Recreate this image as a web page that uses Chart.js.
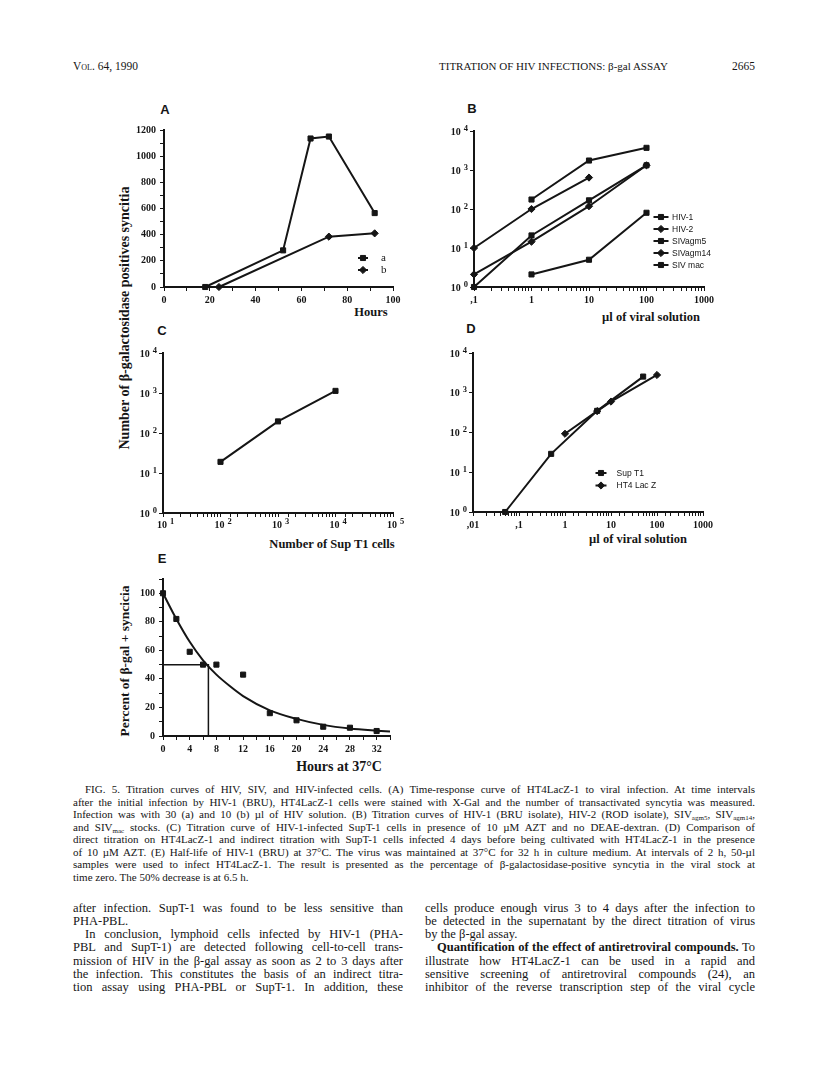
<!DOCTYPE html>
<html>
<head>
<meta charset="utf-8">
<script src="https://cdn.jsdelivr.net/npm/chart.js@4.4.1/dist/chart.umd.min.js"></script>
<style>
  body { margin: 0; width: 816px; height: 1076px; background: #fff; position: relative; overflow: hidden;
         font-family: "Liberation Serif", "Times New Roman", serif; color: #151515; }
  canvas { position: absolute; }
  .t { position: absolute; white-space: nowrap; }
  .c { transform: translate(-50%, -50%); }
  .rot { transform: translate(-50%, -50%) rotate(-90deg); }
  .letter { font-family: "Liberation Sans", Arial, sans-serif; font-weight: bold; font-size: 13px; }
  .axt { font-weight: bold; font-size: 12.5px; }
  .cap, .body { position: absolute; white-space: nowrap; text-align: justify; text-align-last: justify; }
  .cap { left: 73px; width: 682px; font-size: 11px; line-height: 13px; }
  .body { font-size: 12.5px; line-height: 13px; }
  .lc { left: 73px; width: 330px; }
  .rc { left: 425px; width: 330px; }
  .end { text-align-last: left; }
  sub { font-size: 7px; vertical-align: -2px; line-height: 0; }
</style>
</head>
<body>

<div class="t" style="left:73px; top:60px; font-size:11.5px; font-variant:small-caps;">Vol. 64, 1990</div>
<div class="t" style="left:439px; top:60px; font-size:11px;">TITRATION OF HIV INFECTIONS: β-gal ASSAY</div>
<div class="t" style="right:61px; top:60px; font-size:11.5px;">2665</div>

<!-- panel letters and axis titles -->
<div class="t c letter" style="left:165px; top:109px;">A</div>
<div class="t c letter" style="left:472px; top:108px;">B</div>
<div class="t c letter" style="left:162px; top:330px;">C</div>
<div class="t c letter" style="left:471px; top:328px;">D</div>
<div class="t c letter" style="left:162px; top:558px;">E</div>

<div class="t rot" style="left:125px; top:318px; font-weight:bold; font-size:14px;">Number of β-galactosidase positives syncitia</div>
<div class="t rot" style="left:125px; top:661px; font-weight:bold; font-size:13.5px;">Percent of β-gal + syncicia</div>

<div class="t c axt" style="left:371px; top:312px; font-size:12.5px;">Hours</div>
<div class="t c axt" style="left:651px; top:317px;">µl of viral solution</div>
<div class="t c axt" style="left:332px; top:544px;">Number of Sup T1 cells</div>
<div class="t c axt" style="left:638px; top:539px;">µl of viral solution</div>
<div class="t c axt" style="left:339px; top:767px; font-size:14px;">Hours at 37°C</div>

<canvas id="chartA"></canvas>
<canvas id="chartB"></canvas>
<canvas id="chartC"></canvas>
<canvas id="chartD"></canvas>
<canvas id="chartE"></canvas>

<!-- caption -->
<div class="cap" style="top:783px; left:85px; width:670px;">FIG. 5. Titration curves of HIV, SIV, and HIV-infected cells. (A) Time-response curve of HT4LacZ-1 to viral infection. At time intervals</div>
<div class="cap" style="top:796px;">after the initial infection by HIV-1 (BRU), HT4LacZ-1 cells were stained with X-Gal and the number of transactivated syncytia was measured.</div>
<div class="cap" style="top:808px;">Infection was with 30 (a) and 10 (b) µl of HIV solution. (B) Titration curves of HIV-1 (BRU isolate), HIV-2 (ROD isolate), SIV<sub>agm5</sub>, SIV<sub>agm14</sub>,</div>
<div class="cap" style="top:821px;">and SIV<sub>mac</sub> stocks. (C) Titration curve of HIV-1-infected SupT-1 cells in presence of 10 µM AZT and no DEAE-dextran. (D) Comparison of</div>
<div class="cap" style="top:833px;">direct titration on HT4LacZ-1 and indirect titration with SupT-1 cells infected 4 days before being cultivated with HT4LacZ-1 in the presence</div>
<div class="cap" style="top:846px;">of 10 µM AZT. (E) Half-life of HIV-1 (BRU) at 37°C. The virus was maintained at 37°C for 32 h in culture medium. At intervals of 2 h, 50-µl</div>
<div class="cap" style="top:858px;">samples were used to infect HT4LacZ-1. The result is presented as the percentage of β-galactosidase-positive syncytia in the viral stock at</div>
<div class="cap end" style="top:871px;">time zero. The 50% decrease is at 6.5 h.</div>

<!-- body text -->
<div class="body lc" style="top:901.5px;">after infection. SupT-1 was found to be less sensitive than</div>
<div class="body lc end" style="top:914.8px;">PHA-PBL.</div>
<div class="body lc" style="top:928.1px; left:85px; width:318px;">In conclusion, lymphoid cells infected by HIV-1 (PHA-</div>
<div class="body lc" style="top:941.4px;">PBL and SupT-1) are detected following cell-to-cell trans-</div>
<div class="body lc" style="top:954.7px;">mission of HIV in the β-gal assay as soon as 2 to 3 days after</div>
<div class="body lc" style="top:968px;">the infection. This constitutes the basis of an indirect titra-</div>
<div class="body lc" style="top:981.3px;">tion assay using PHA-PBL or SupT-1. In addition, these</div>

<div class="body rc" style="top:901.5px;">cells produce enough virus 3 to 4 days after the infection to</div>
<div class="body rc" style="top:914.8px;">be detected in the supernatant by the direct titration of virus</div>
<div class="body rc end" style="top:928.1px;">by the β-gal assay.</div>
<div class="body rc" style="top:941.4px; left:437px; width:318px;"><b>Quantification of the effect of antiretroviral compounds.</b> To</div>
<div class="body rc" style="top:954.7px;">illustrate how HT4LacZ-1 can be used in a rapid and</div>
<div class="body rc" style="top:968px;">sensitive screening of antiretroviral compounds (24), an</div>
<div class="body rc" style="top:981.3px;">inhibitor of the reverse transcription step of the viral cycle</div>

<script>
// ---- A: time response (hours vs syncytia)
const hoursA = [18, 52, 64, 72, 92];
const syncA = [0, 280, 1135, 1150, 565];
const hoursB = [24, 72, 92];
const syncB = [0, 385, 410];

// ---- B: titration curves (µl vs syncytia)
const hiv1Ul = [1, 10, 100];
const hiv1Sync = [175, 1750, 3700];
const hiv2Ul = [0.1, 1, 10];
const hiv2Sync = [10, 100, 640];
const agm5Ul = [0.1, 1, 10, 100];
const agm5Sync = [1, 21, 167, 1320];
const agm14Ul = [0.1, 1, 10, 100];
const agm14Sync = [2.1, 14.5, 118, 1320];
const macUl = [1, 10, 100];
const macSync = [2.1, 5, 80];

// ---- C: Sup T1 cells
const supCells = [100, 1000, 10000];
const supCellSync = [19, 195, 1130];

// ---- D: direct vs indirect
const supT1Ul = [0.05, 0.5, 5, 50];
const supT1Sync = [1, 29, 350, 2550];
const lacZUl = [1, 5, 10, 100];
const lacZSync = [93, 345, 600, 2800];

// ---- E: half-life
const hoursE = [0, 2, 4, 6, 8, 12, 16, 20, 24, 28, 32];
const pctE = [100, 82, 59, 50, 50, 43, 16, 11, 6.5, 5.8, 3.5];
const fitHours = [0, 2, 4, 6, 8, 10, 12, 16, 20, 24, 28, 32, 34];
const fitPct = [100, 82, 66, 53, 43, 35, 28, 18, 12, 7.8, 5.2, 3.7, 3.1];
const halfHours = [0, 6.8, 6.8];
const halfPct = [50, 50, 0];

// ---- tick labels
const powBase = '10';
const powExps = ['0', '1', '2', '3', '4', '5'];
const ulLabelsB = [',1', '1', '10', '100', '1000'];
const ulLabelsD = [',01', ',1', '1', '10', '100', '1000'];

const INK = '#151515';
const SERIF = '"Liberation Serif", "Times New Roman", serif';
const SANS = '"Liberation Sans", Arial, sans-serif';

const pts = (xs, ys) => xs.map((x, i) => ({ x: x, y: ys[i] }));
const isPow = v => { const e = Math.log10(v); return Math.abs(e - Math.round(e)) < 1e-6; };
const expOf = v => Math.round(Math.log10(v));

function series(label, xs, ys, style) {
  return {
    label: label, data: pts(xs, ys), showLine: true, borderColor: INK, borderWidth: 2,
    pointStyle: style, pointRadius: 3.6, pointBackgroundColor: INK,
    pointBorderColor: INK, pointBorderWidth: 1, tension: 0, clip: false
  };
}

function drawMarker(ctx, style, x, y, r) {
  ctx.beginPath();
  if (style === 'rect') {
    const s = r * Math.SQRT1_2;
    ctx.rect(x - s, y - s, 2 * s, 2 * s);
  } else {
    ctx.moveTo(x, y - r); ctx.lineTo(x + r, y); ctx.lineTo(x, y + r); ctx.lineTo(x - r, y); ctx.closePath();
  }
  ctx.fill(); ctx.stroke();
}

// little legend: short line with marker, then the label
const miniLegend = {
  id: 'miniLegend',
  afterDraw(chart, args, opts) {
    if (!opts.show) return;
    const ctx = chart.ctx;
    const area = chart.chartArea;
    ctx.save();
    ctx.font = opts.font;
    ctx.fillStyle = INK; ctx.strokeStyle = INK;
    ctx.textBaseline = 'middle';
    chart.data.datasets.forEach((ds, i) => {
      const x = area.left + opts.x;
      const y = area.top + opts.y + i * opts.gap;
      ctx.lineWidth = 2;
      ctx.beginPath(); ctx.moveTo(x - opts.half, y); ctx.lineTo(x + opts.half, y); ctx.stroke();
      ctx.lineWidth = 1;
      drawMarker(ctx, ds.pointStyle, x, y, ds.pointRadius);
      ctx.fillText(ds.label, x + opts.textDx, y + 0.5);
    });
    ctx.restore();
  }
};

// "10" with a raised exponent at each power of ten of the log scales
const powTicks = {
  id: 'powTicks',
  afterDraw(chart, args, opts) {
    const ctx = chart.ctx;
    ctx.save();
    ctx.fillStyle = INK;
    ctx.textBaseline = 'alphabetic';
    ['x', 'y'].forEach(id => {
      if (!opts[id]) return;
      const s = chart.scales[id];
      s.ticks.forEach(t => {
        if (!isPow(t.value)) return;
        const e = powExps[expOf(t.value)];
        ctx.font = 'bold 8.5px ' + SERIF;
        const ew = ctx.measureText(e).width;
        ctx.font = 'bold 10px ' + SERIF;
        const bw = ctx.measureText(powBase).width;
        const gap = 3;
        const total = bw + gap + ew;
        let x0, base;
        if (id === 'y') {
          x0 = s.right - 6 - total;
          base = s.getPixelForValue(t.value) + 3.5;
        } else {
          x0 = s.getPixelForValue(t.value) - bw / 2 - 1;
          base = s.top + 15;
        }
        ctx.fillText(powBase, x0, base);
        ctx.font = 'bold 8.5px ' + SERIF;
        ctx.fillText(e, x0 + bw + gap, base - 4);
      });
    });
    ctx.restore();
  }
};

function axis(extra) {
  const ticks = Object.assign({
    color: INK, font: { family: SERIF, size: 10, weight: 'bold' },
    padding: 3, autoSkip: false, maxRotation: 0, minRotation: 0
  }, extra.ticks || {});
  return Object.assign({
    border: { color: INK, width: 2 },
    grid: { drawOnChartArea: false, color: INK, tickLength: 4, lineWidth: 1 }
  }, extra, { ticks: ticks });
}

// labels are painted by powTicks
function logY() {
  return axis({
    type: 'logarithmic', min: 1, max: 10000,
    afterBuildTicks: s => { s.ticks = s.ticks.filter(t => isPow(t.value)); },
    ticks: { callback: () => '' }
  });
}

function logX(min, max, labels) {
  const e0 = expOf(min);
  return axis({
    type: 'logarithmic', min: min, max: max,
    ticks: { callback: v => (labels && isPow(v)) ? labels[expOf(v) - e0] : '' }
  });
}

// area = chart area in page pixels, m = room for labels around it
function makeChart(id, area, m, datasets, scales, legend, pow) {
  const cv = document.getElementById(id);
  cv.width = area.x1 - area.x0 + m.l + m.r;
  cv.height = area.y1 - area.y0 + m.t + m.b;
  cv.style.left = (area.x0 - m.l) + 'px';
  cv.style.top = (area.y0 - m.t) + 'px';
  scales.x.afterFit = s => { s.height = m.b; };
  scales.y.afterFit = s => { s.width = m.l; };
  return new Chart(cv, {
    type: 'scatter',
    data: { datasets: datasets },
    options: {
      responsive: false, animation: false, devicePixelRatio: 1, events: [],
      layout: { padding: { left: 0, top: m.t, right: m.r, bottom: 0 }, autoPadding: false },
      scales: scales,
      plugins: {
        legend: { display: false }, tooltip: { enabled: false },
        miniLegend: legend || { show: false },
        powTicks: pow || {}
      }
    },
    plugins: [miniLegend, powTicks]
  });
}

const M = { l: 46, t: 10, r: 22, b: 20 };

makeChart('chartA', { x0: 164, x1: 393, y0: 130, y1: 287 }, M, [
  series('a', hoursA, syncA, 'rect'),
  series('b', hoursB, syncB, 'rectRot')
], {
  x: axis({ type: 'linear', min: 0, max: 100, ticks: { stepSize: 10, callback: v => v % 20 === 0 ? v : '' } }),
  y: axis({ type: 'linear', min: 0, max: 1200, ticks: { stepSize: 100, padding: 4, callback: v => v % 200 === 0 ? v : '' } })
}, { show: true, x: 199, y: 128, gap: 12, half: 5, textDx: 18, font: '11px ' + SERIF });

makeChart('chartB', { x0: 474, x1: 704, y0: 131, y1: 287 }, M, [
  series('HIV-1', hiv1Ul, hiv1Sync, 'rect'),
  series('HIV-2', hiv2Ul, hiv2Sync, 'rectRot'),
  series('SIVagm5', agm5Ul, agm5Sync, 'rect'),
  series('SIVagm14', agm14Ul, agm14Sync, 'rectRot'),
  series('SIV mac', macUl, macSync, 'rect')
], {
  x: logX(0.1, 1000, ulLabelsB),
  y: logY()
}, { show: true, x: 187, y: 86, gap: 12, half: 7.5, textDx: 11, font: '8.5px ' + SANS }, { y: true });

makeChart('chartC', { x0: 163, x1: 393, y0: 353, y1: 513 }, M, [
  series('Sup T1', supCells, supCellSync, 'rect')
], {
  x: logX(10, 100000, null),
  y: logY()
}, null, { x: true, y: true });

makeChart('chartD', { x0: 473, x1: 703, y0: 353, y1: 512 }, M, [
  series('Sup T1', supT1Ul, supT1Sync, 'rect'),
  series('HT4 Lac Z', lacZUl, lacZSync, 'rectRot')
], {
  x: logX(0.01, 1000, ulLabelsD),
  y: logY()
}, { show: true, x: 128, y: 120, gap: 12.5, half: 5.5, textDx: 15.5, font: '8.5px ' + SANS }, { y: true });

makeChart('chartE', { x0: 163, x1: 390, y0: 579, y1: 736 }, M, [
  { data: pts(hoursE, pctE), showLine: false, pointStyle: 'rect', pointRadius: 3.6, pointBackgroundColor: INK,
    pointBorderColor: INK, pointBorderWidth: 1, clip: false },
  { data: pts(fitHours, fitPct), showLine: true, borderColor: INK, borderWidth: 2, pointRadius: 0,
    cubicInterpolationMode: 'monotone', clip: false },
  { data: pts(halfHours, halfPct), showLine: true, borderColor: INK, borderWidth: 1.5, pointRadius: 0, tension: 0 }
], {
  x: axis({ type: 'linear', min: 0, max: 34, ticks: { stepSize: 2, callback: v => (v % 4 === 0 && v <= 32) ? v : '' } }),
  y: axis({ type: 'linear', min: 0, max: 110, ticks: { stepSize: 10, padding: 4, callback: v => (v % 20 === 0 && v <= 100) ? v : '' } })
});
</script>
</body>
</html>
